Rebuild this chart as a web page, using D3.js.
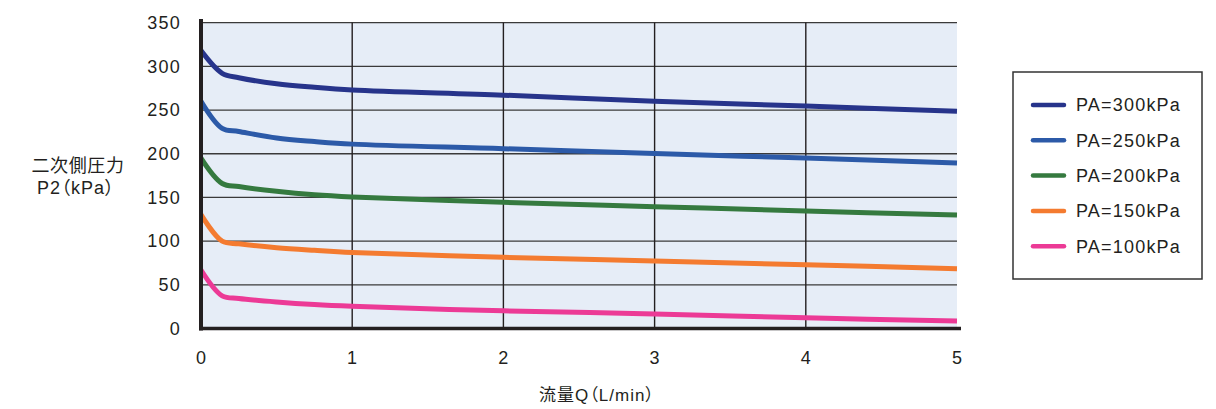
<!DOCTYPE html>
<html>
<head>
<meta charset="utf-8">
<script src="https://cdn.jsdelivr.net/npm/d3@7"></script>
<style>
  body { margin: 0; background: #fff; }
  svg text { font-family: "Liberation Sans", "Noto Sans CJK JP", sans-serif; fill: #231f20; }
  .cjk { font-feature-settings: "palt"; }
</style>
</head>
<body>
<div id="chart"></div>
<script>
// 流量Q (L/min) vs 二次側圧力 P2 (kPa)
const flowQ  = [0, 0.14, 0.25, 0.5, 0.75, 1, 2, 3, 4, 5];
const pa300 = [318, 292, 287, 280, 276, 273, 267, 260, 254.5, 248.5];
const pa250 = [260, 229, 225.5, 218, 214, 211, 205.8, 200.3, 195, 189.4];
const pa200 = [195, 166, 162.5, 157, 153, 150.5, 144.5, 139.5, 134.5, 130];
const pa150 = [130.5, 100, 97, 92.5, 89.5, 87, 81.5, 77.3, 73, 68.5];
const pa100 = [67, 37.5, 34.5, 30.5, 27.5, 25.5, 20.3, 16.8, 12.3, 8.7];

const seriesNames = ["PA=300kPa", "PA=250kPa", "PA=200kPa", "PA=150kPa", "PA=100kPa"];
const seriesColors = ["#27348b", "#2c5aa8", "#357a3f", "#f47b30", "#ec3a96"];
const xTicks = [0, 1, 2, 3, 4, 5];
const yTicks = [0, 50, 100, 150, 200, 250, 300, 350];

const series = [pa300, pa250, pa200, pa150, pa100].map((vals, i) => ({
    name: seriesNames[i],
    color: seriesColors[i],
    values: vals.map((v, j) => ({q: flowQ[j], p: v}))
}));

const W = 1216, H = 409;
const plot = {left: 201, right: 957, top: 22.6, bottom: 328.6};

const svg = d3.select("#chart").append("svg")
    .attr("width", W)
    .attr("height", H);

const x = d3.scaleLinear().domain([0, 5]).range([plot.left, plot.right]);
const y = d3.scaleLinear().domain([0, 350]).range([plot.bottom, plot.top]);

// plot background
svg.append("rect")
    .attr("x", x(0)).attr("y", y(350))
    .attr("width", x(5) - x(0)).attr("height", y(0) - y(350))
    .attr("fill", "#e6edf7");

// grid
svg.append("g").selectAll("line")
    .data(yTicks.filter(d => d > 0))
    .join("line")
    .attr("x1", x(0)).attr("x2", x(5))
    .attr("y1", d => y(d)).attr("y2", d => y(d))
    .attr("stroke", "#3a3a3a")
    .attr("stroke-width", 1.3);

svg.append("g").selectAll("line")
    .data(xTicks.filter(d => d > 0 && d < 5))
    .join("line")
    .attr("x1", d => x(d)).attr("x2", d => x(d))
    .attr("y1", y(350)).attr("y2", y(0))
    .attr("stroke", "#231f20")
    .attr("stroke-width", 1.4);

// curves
const line = d3.line()
    .x(d => x(d.q))
    .y(d => y(d.p))
    .curve(d3.curveCatmullRom.alpha(0.5));

svg.append("g").selectAll("path")
    .data(series)
    .join("path")
    .attr("d", d => line(d.values))
    .attr("fill", "none")
    .attr("stroke", d => d.color)
    .attr("stroke-width", 5)
    .attr("stroke-linejoin", "round");

// axes (labels only, thick lines drawn by hand)
const yAxis = d3.axisLeft(y).tickValues(yTicks).tickSize(0).tickPadding(20);
const xAxis = d3.axisBottom(x).tickValues(xTicks).tickSize(0).tickPadding(22.6).tickFormat(d3.format("d"));

const gy = svg.append("g").attr("transform", `translate(${plot.left},0)`).call(yAxis);
const gx = svg.append("g").attr("transform", `translate(0,${plot.bottom})`).call(xAxis);
[gy, gx].forEach(g => {
    g.select(".domain").remove();
    g.selectAll("text")
        .attr("fill", "#231f20")
        .style("font-size", "18px")
        .style("letter-spacing", "1.2px");
});

svg.append("line")
    .attr("x1", plot.left).attr("x2", plot.left)
    .attr("y1", 19).attr("y2", plot.bottom + 2)
    .attr("stroke", "#231f20").attr("stroke-width", 4);
svg.append("line")
    .attr("x1", plot.left - 2).attr("x2", 961)
    .attr("y1", plot.bottom).attr("y2", plot.bottom)
    .attr("stroke", "#231f20").attr("stroke-width", 3.5);

// axis titles
svg.append("text")
    .attr("class", "cjk")
    .attr("x", 78).attr("y", 172)
    .attr("text-anchor", "middle")
    .style("font-size", "18px")
    .style("letter-spacing", "0.6px")
    .text("二次側圧力");
svg.append("text")
    .attr("class", "cjk")
    .attr("x", 76).attr("y", 194)
    .attr("text-anchor", "middle")
    .style("font-size", "18px")
    .style("letter-spacing", "1px")
    .text("P2（kPa）");
svg.append("text")
    .attr("class", "cjk")
    .attr("x", 597).attr("y", 401)
    .attr("text-anchor", "middle")
    .style("font-size", "17px")
    .style("letter-spacing", "1px")
    .text("流量Q（L/min）");

// legend
const legend = svg.append("g");
legend.append("rect")
    .attr("x", 1013).attr("y", 72)
    .attr("width", 189).attr("height", 207)
    .attr("fill", "#fff")
    .attr("stroke", "#333")
    .attr("stroke-width", 1.5);

const items = legend.selectAll("g.item")
    .data(series)
    .join("g")
    .attr("class", "item")
    .attr("transform", (d, i) => `translate(0,${105 + i * 35.3})`);
items.append("line")
    .attr("x1", 1033).attr("x2", 1064)
    .attr("stroke", d => d.color)
    .attr("stroke-width", 4.5)
    .attr("stroke-linecap", "round");
items.append("text")
    .attr("x", 1076).attr("dy", "0.36em")
    .style("font-size", "18px")
    .style("letter-spacing", "1.2px")
    .text(d => d.name);
</script>
</body>
</html>
